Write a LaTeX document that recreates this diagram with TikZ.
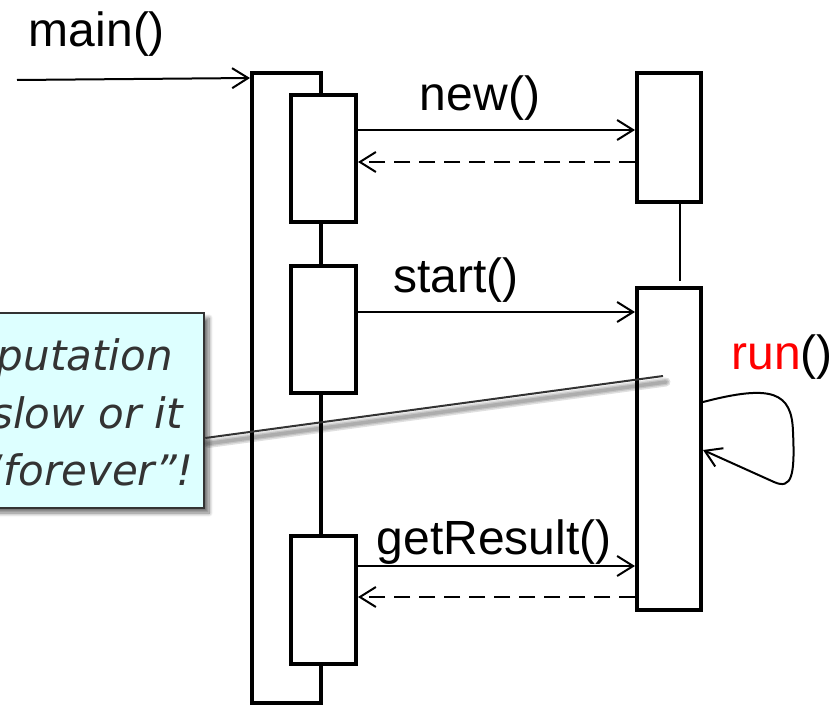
\documentclass[tikz,border=0pt]{standalone}
\usepackage{fontspec}
\setmainfont{Liberation Sans}
\newfontfamily\notefont{DejaVu Sans}
\usetikzlibrary{arrows.meta,shadows.blur}
\definecolor{notefill}{HTML}{DDFFFF}
\definecolor{noteink}{HTML}{333333}
\begin{document}
\begin{tikzpicture}[x=1pt,y=-1pt,
  lifebox/.style={draw, line width=4pt, fill=white, inner sep=0pt,
    minimum width=#1},
  msg/.style={line width=2pt, -{Straight Barb[length=16pt,width=20pt]}},
  reply/.style={msg, dash pattern=on 16pt off 9pt},
  lbl/.style={inner sep=0pt, anchor=base, font=\fontsize{48}{56}\selectfont},
  notetext/.style={inner sep=0pt, anchor=base east, text=noteink,
    font=\notefont\itshape\fontsize{42}{50}\selectfont},
  softshade/.style={line width=#1, black, opacity=0.12, line cap=round},
]
\useasboundingbox (0,0) rectangle (837,709);
\clip (0,0) rectangle (837,709);

% lifeline of the main thread and its activations
\node[lifebox=69pt, minimum height=630pt] (L) at (286.5,388) {};
\node[lifebox=65pt, minimum height=127pt] (a1) at (323.5,158.5) {};
\node[lifebox=65pt, minimum height=127pt] (a2) at (323.5,329.5) {};
\node[lifebox=65pt, minimum height=128pt] (a3) at (323.5,600) {};

% lifeline of the worker object
\node[lifebox=64pt, minimum height=129pt] (b1) at (669,137.5) {};
\node[lifebox=64pt, minimum height=322pt] (b2) at (669,449) {};
\draw[line width=2.5pt] ([xshift=11pt]b1.south) -- ([xshift=11pt,yshift=5pt]b2.north);

% entry call
\coordinate (entry) at (17,80);
\draw[msg] (entry) -- ([yshift=-7pt]L.north west);
\node[lbl] (lmain) at (97,46) {main()};

% messages
\draw[msg] ([yshift=-37pt]a1.north east) -- ([yshift=-37pt]a1.north east -| b1.west);
\draw[reply] ([yshift=-69pt]a1.north east -| b1.west) -- ([yshift=-69pt]a1.north east);
\node[lbl] (lnew) at (480,110) {new()};

\draw[msg] ([yshift=-48pt]a2.north east) -- ([yshift=-48pt]a2.north east -| b2.west);
\node[lbl] (lstart) at (456,292) {start()};

\draw[msg] ([yshift=-32pt]a3.north east) -- ([yshift=-32pt]a3.north east -| b2.west);
\draw[reply] ([yshift=-63pt]a3.north east -| b2.west) -- ([yshift=-63pt]a3.north east);
\node[lbl] (lget) at (494,554) {getResult()};

% self call of run()
\draw[msg] ([yshift=47pt]b2.east) .. controls (772,384) and (792,392) .. (793,432)
  .. controls (795,475) and (792,490) .. (774,482) -- ([yshift=-1pt]b2.east);
\node[lbl] (lrun) at (782,369) {\textcolor{red}{run}()};

% note box with its pointer
\node[draw=noteink, line width=2.5pt, fill=notefill, inner sep=0pt,
  minimum width=264pt, minimum height=195pt,
  blur shadow={shadow xshift=5pt, shadow yshift=-5pt, shadow opacity=55,
    shadow blur steps=8, shadow blur radius=4pt}]
  (note) at (72,410.5) {};
\coordinate (tip) at ([xshift=-6pt,yshift=73pt]b2.center);
\foreach \w in {9pt,6pt,3.5pt}
  \draw[softshade=\w] ([xshift=3pt,yshift=-33pt]note.east) -- ([xshift=3pt,yshift=-6pt]tip);
\draw[line width=2pt, noteink] ([yshift=-27.5pt]note.east) -- (tip);
\node[notetext] (n1) at (173,370) {putation};
\node[notetext] (n2) at (183,428) {slow or it};
\node[notetext] (n3) at (194,485) {“forever”!};
\end{tikzpicture}
\end{document}
